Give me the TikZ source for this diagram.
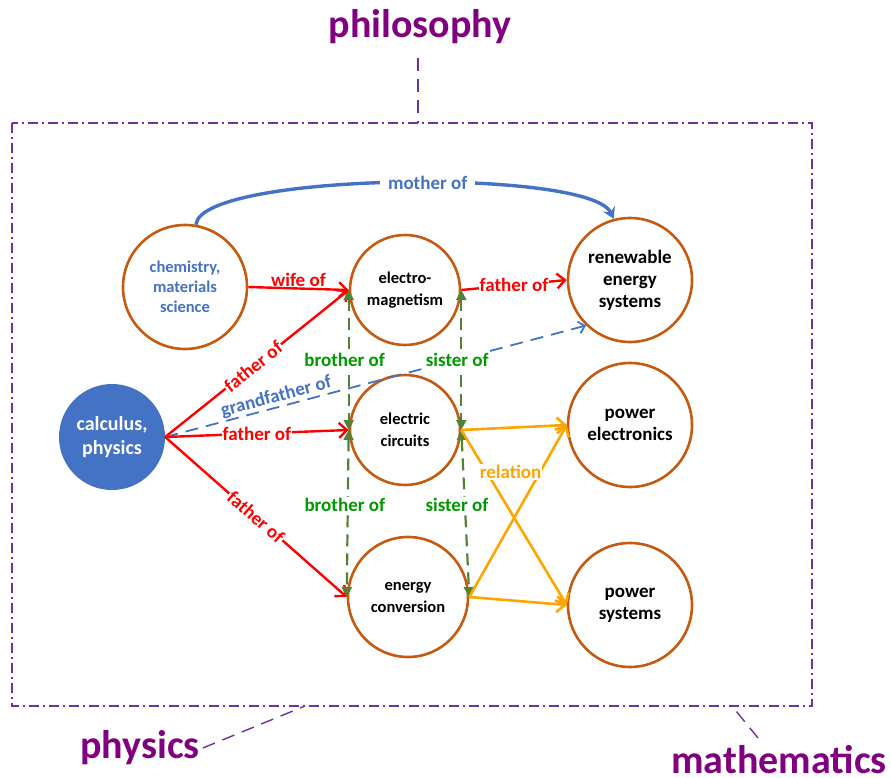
\documentclass[tikz,border=0pt]{standalone}
\usepackage{fontspec}
\setmainfont{Carlito}
\usepackage{xcolor}
\usetikzlibrary{arrows.meta,positioning}
\definecolor{ringbrown}{RGB}{197,90,17}
\definecolor{relred}{RGB}{255,0,0}
\definecolor{relblue}{RGB}{68,114,196}
\definecolor{relgreen}{RGB}{84,130,53}
\definecolor{txtgreen}{RGB}{0,153,0}
\definecolor{relorange}{RGB}{255,165,0}
\definecolor{fieldpurple}{RGB}{128,0,128}
\definecolor{framepurple}{RGB}{112,48,160}

\begin{document}
\begin{tikzpicture}[x=1pt, y=-1pt,
    field/.style={circle, draw=ringbrown, line width=2.6pt, fill=white,
                  align=center, font=\bfseries\fontsize{16.5}{22}\selectfont},
    bigfield/.style={field, font=\bfseries\fontsize{19}{22}\selectfont},
    rel/.style={font=\bfseries\fontsize{19}{21}\selectfont, inner sep=1pt},
    redarrow/.style={relred, line width=2.4pt, -{Straight Barb[length=8pt,width=15pt]}},
    greenarrow/.style={relgreen, line width=2.2pt, dashed, dash pattern=on 12pt off 7pt,
                       {Triangle[length=10pt,width=10pt]}-{Triangle[length=10pt,width=10pt]}},
    orangearrow/.style={relorange, line width=2.6pt, -{Straight Barb[length=8pt,width=16pt]}},
    area/.style={fieldpurple, inner sep=0pt, font=\bfseries\fontsize{40}{44}\selectfont},
    arealine/.style={framepurple, line width=1.4pt, dashed, dash pattern=on 13pt off 8pt}]

\useasboundingbox (0,0) rectangle (891,778);

% frame and fields of knowledge
\draw[framepurple, line width=1.2pt, dash pattern=on 10pt off 4pt on 2pt off 4pt]
    (12,123) rectangle (812,706);
\node[area] (philo) at (420,27) {philosophy};
\node[area] (phys) at (140,748) {physics};
\node[area] (math) at (779,760) {mathematics};
\coordinate (philotop) at (418,123);
\coordinate (physbot) at (305,706);
\coordinate (mathbot) at (732,706);
\draw[arealine] (418,58) -- (philotop);
\draw[arealine] ([xshift=3pt]phys.east) -- (physbot);
\draw[arealine] (758,738) -- (mathbot);

% subjects
\node[field, minimum size=124pt, text=relblue, font=\bfseries\fontsize{16.5}{20}\selectfont] (chem) at (185,287) {chemistry,\\materials\\science};
\node[field, minimum size=110pt] (em) at (405,290) {electro-\\magnetism};
\node[bigfield, minimum size=124pt] (ren) at (630,280) {renewable\\energy\\systems};
\node[circle, fill=relblue, minimum size=106pt, text=white, align=center,
      font=\bfseries\fontsize{20}{24}\selectfont] (calc) at (112,437) {calculus,\\physics};
\node[field, minimum size=110pt] (ec) at (405,430) {electric\\circuits};
\node[bigfield, minimum size=124pt] (pe) at (630,425) {power\\electronics};
\node[field, minimum size=120pt] (ecv) at (408,597) {energy\\conversion};
\node[bigfield, minimum size=124pt] (ps) at (630,605) {power\\systems};

% relations
\draw[relblue, line width=3.4pt, -{Stealth[length=11pt,width=13pt]}]
    (chem.80) .. controls (200,172) and (590,168) .. node[pos=0.55, rel, fill=white, text=relblue, inner xsep=8pt] {mother of} (ren.105);
\draw[redarrow] (chem.east) -- node[rel, above, text=relred] {wife of} (em.west);
\draw[redarrow] (calc.east) -- node[rel, sloped, fill=white, text=relred, pos=0.48] {father of} (em.west);
\draw[relblue, line width=1.8pt, dashed, dash pattern=on 13pt off 8pt, -{Straight Barb[length=6pt,width=12pt]}]
    (calc.east) -- node[rel, sloped, above, text=relblue, pos=0.27] {grandfather of} (ren.226);
\draw[redarrow] (calc.east) -- node[rel, fill=white, text=relred, pos=0.5] {father of} (ec.west);
\draw[redarrow] (calc.east) -- node[rel, sloped, fill=white, text=relred, pos=0.5] {father of} (ecv.west);
\draw[redarrow] (em.east) -- node[rel, fill=white, text=relred] {father of} (ren.west);

\draw[greenarrow] (em.west) -- node[rel, fill=white, text=txtgreen, xshift=-4pt] {brother of} (ec.west);
\draw[greenarrow] (em.east) -- node[rel, fill=white, text=txtgreen, xshift=-4pt] {sister of} (ec.east);
\draw[greenarrow] (ec.west) -- node[rel, fill=white, text=txtgreen, xshift=-3pt, pos=0.45] {brother of} (ecv.west);
\draw[greenarrow] (ec.east) -- node[rel, fill=white, text=txtgreen, xshift=-8pt, pos=0.45] {sister of} (ecv.east);

\draw[orangearrow] (ec.east) -- (pe.west);
\draw[orangearrow] (ecv.east) -- (ps.west);
\draw[orangearrow] (ecv.east) -- (pe.west);
\draw[orangearrow] (ec.east) -- node[rel, fill=white, text=relorange, pos=0.24, xshift=24pt] {relation} (ps.west);

\end{tikzpicture}
\end{document}
